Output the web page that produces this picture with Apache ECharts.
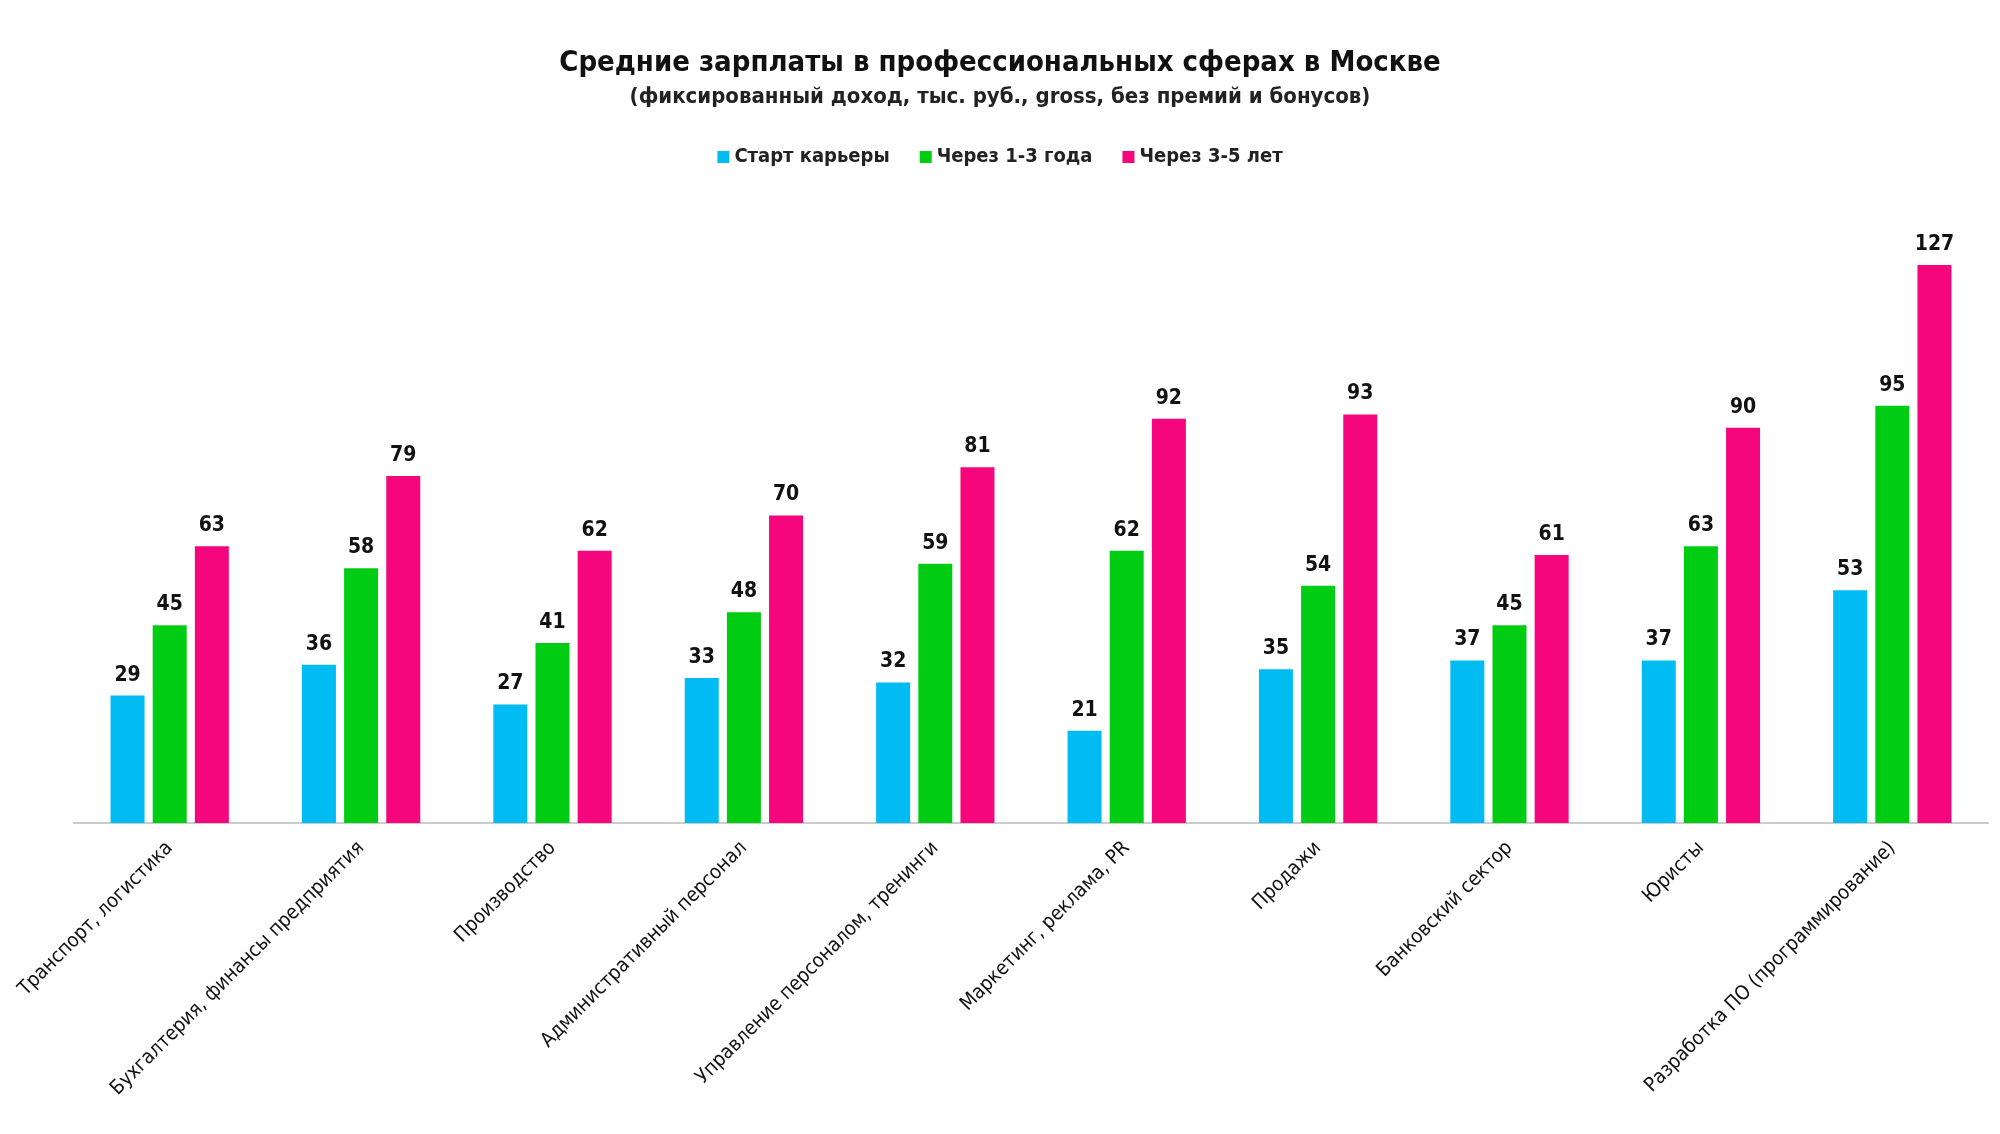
<!DOCTYPE html>
<html><head><meta charset="utf-8">
<script src="https://cdn.jsdelivr.net/npm/echarts@6/dist/echarts.min.js"></script>
<style>html,body{margin:0;background:#fff}#c{width:2000px;height:1134px}</style>
</head><body><div id="c"></div>
<script>
const categories=["Транспорт, логистика","Бухгалтерия, финансы предприятия","Производство","Административный персонал","Управление персоналом, тренинги","Маркетинг, реклама, PR","Продажи","Банковский сектор","Юристы","Разработка ПО (программирование)"];
const start=[29,36,27,33,32,21,35,37,37,53];
const y13=[45,58,41,48,59,62,54,45,63,95];
const y35=[63,79,62,70,81,92,93,61,90,127];
const F="'Liberation Sans Narrow','DejaVu Sans Condensed','Roboto',sans-serif";
const lbl={show:true,position:'top',distance:10,color:'#111',fontFamily:F,fontWeight:'bold',fontSize:21};
const chart=echarts.init(document.getElementById('c'));
chart.setOption({
 animation:false,
 title:{text:'Средние зарплаты в профессиональных сферах в Москве',subtext:'(фиксированный доход, тыс. руб., gross, без премий и бонусов)',left:'center',top:44,itemGap:8,
  textStyle:{fontFamily:F,fontWeight:'bold',fontSize:29,color:'#111'},subtextStyle:{fontFamily:F,fontWeight:'bold',fontSize:22,color:'#222'}},
 legend:{top:142,left:'center',itemWidth:12,itemHeight:12,icon:'rect',itemGap:30,textStyle:{fontFamily:F,fontWeight:'bold',fontSize:20,color:'#222'}},
 grid:{left:74,right:12,top:208,bottom:311},
 xAxis:{type:'category',data:categories,axisTick:{show:false},axisLine:{lineStyle:{color:'#ccc',width:2}},
  axisLabel:{rotate:45,interval:0,fontFamily:F,fontSize:20,color:'#111',margin:22}},
 yAxis:{type:'value',min:0,max:140,show:false,splitLine:{show:false}},
 series:[
  {name:'Старт карьеры',type:'bar',data:start,itemStyle:{color:'#00bcf2'},barWidth:34,barGap:'24%',label:lbl},
  {name:'Через 1-3 года',type:'bar',data:y13,itemStyle:{color:'#00cc14'},barWidth:34,barGap:'24%',label:lbl},
  {name:'Через 3-5 лет',type:'bar',data:y35,itemStyle:{color:'#f5067d'},barWidth:34,barGap:'24%',label:lbl}
 ]
});
</script></body></html>
